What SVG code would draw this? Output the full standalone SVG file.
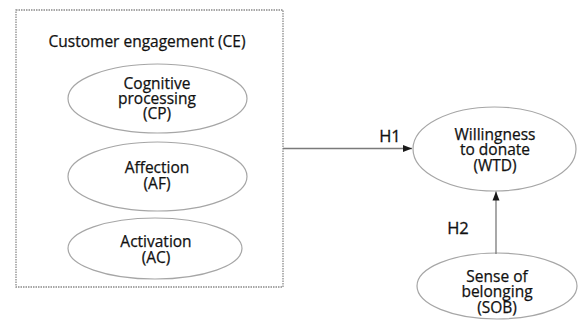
<svg xmlns="http://www.w3.org/2000/svg" width="579" height="320" viewBox="0 0 579 320">
<style>
.bg{fill:#ffffff}
.frame{fill:none;stroke:#8a8a8a;stroke-width:1.3;stroke-dasharray:1.5 1}
.node{fill:#ffffff;stroke:#a6a6a6;stroke-width:1.2}
.lbl{font-family:"Open Sans","Liberation Sans",sans-serif;font-size:15.5px;fill:#111111;stroke:#111111;stroke-width:0.25;text-anchor:middle}
.edge{fill:none;stroke:#7a7a7a;stroke-width:1.3}
.hl{font-family:"Open Sans","Liberation Sans",sans-serif;font-size:16.5px;fill:#111111;stroke:#111111;stroke-width:0.3;text-anchor:middle}
</style>
<defs>
<marker id="arr" markerWidth="10" markerHeight="8" refX="9" refY="4" orient="auto" markerUnits="userSpaceOnUse">
<path d="M0,0.5 L9,4 L0,7.5 Z" fill="#1a1a1a"/>
</marker>
</defs>
<rect class="bg" x="0" y="0" width="579" height="320"/>
<g id="CE">
<rect class="frame" x="16" y="10" width="267" height="277"/>
<text class="lbl" x="147" y="47" font-size="16px">Customer engagement (CE)</text>
</g>
<g id="CP">
<ellipse class="node" cx="157.5" cy="98.5" rx="89.5" ry="34.5"/>
<text class="lbl" x="157" y="88.5">Cognitive</text>
<text class="lbl" x="157" y="103.5">processing</text>
<text class="lbl" x="157" y="119">(CP)</text>
</g>
<g id="AF">
<ellipse class="node" cx="157.5" cy="176.5" rx="89.5" ry="34.5"/>
<text class="lbl" x="157" y="173">Affection</text>
<text class="lbl" x="157" y="189">(AF)</text>
</g>
<g id="AC">
<ellipse class="node" cx="155" cy="248.5" rx="87" ry="30.5"/>
<text class="lbl" x="156" y="247">Activation</text>
<text class="lbl" x="156" y="263">(AC)</text>
</g>
<g id="WTD">
<ellipse class="node" cx="494.5" cy="149" rx="81.5" ry="42"/>
<text class="lbl" x="495" y="139.5">Willingness</text>
<text class="lbl" x="495" y="155">to donate</text>
<text class="lbl" x="495" y="170.5">(WTD)</text>
</g>
<g id="SOB">
<ellipse class="node" cx="497" cy="286" rx="80" ry="33"/>
<text class="lbl" x="497" y="281.5">Sense of</text>
<text class="lbl" x="497" y="297">belonging</text>
<text class="lbl" x="497" y="312.5">(SOB)</text>
</g>
<g id="connectors">
<line class="edge" x1="283" y1="148.5" x2="412" y2="148.5" marker-end="url(#arr)"/>
<text class="hl" x="390" y="142">H1</text>
<line class="edge" x1="496" y1="254" x2="496" y2="191.5" marker-end="url(#arr)"/>
<text class="hl" x="458" y="234">H2</text>
</g>
</svg>
